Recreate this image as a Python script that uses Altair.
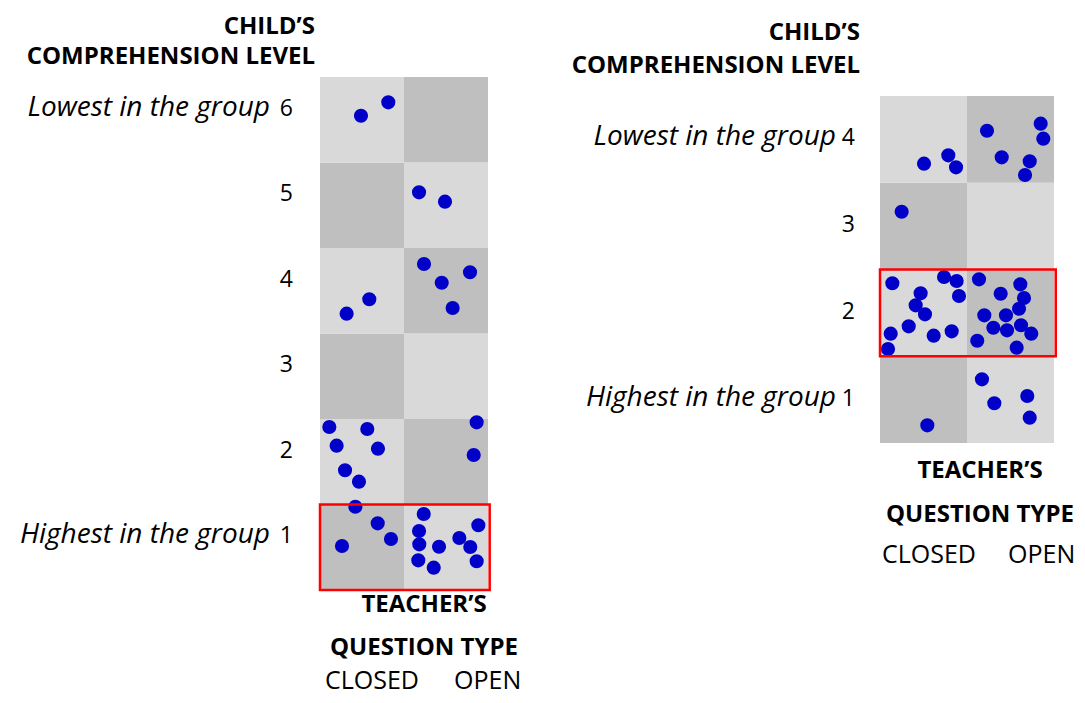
import altair as alt
import pandas as pd

# ---------------- data ----------------
question_types = ["CLOSED", "OPEN"]

# Left panel: 6 comprehension levels
left_levels = [1, 2, 3, 4, 5, 6]
left_x = [0.488, 0.813,
          1.179, 1.488,
          0.317, 0.587, 1.238, 1.449, 1.786, 1.579,
          0.111, 0.563, 0.198, 0.690, 0.298, 0.464, 1.865, 1.830,
          0.421, 0.687, 0.845, 0.262,
          1.235, 1.179, 1.182, 1.417, 1.170, 1.354, 1.659, 1.885, 1.789, 1.865]
left_y = [5.547, 5.704,
          4.651, 4.542,
          3.232, 3.400, 3.813, 3.594, 3.716, 3.298,
          1.906, 1.883, 1.688, 1.653, 1.400, 1.267, 1.961, 1.579,
          0.974, 0.780, 0.596, 0.515,
          0.889, 0.690, 0.534, 0.506, 0.347, 0.261, 0.608, 0.757, 0.503, 0.336]
left_highlight_level = 1

# Right panel: 4 comprehension levels
right_levels = [1, 2, 3, 4]
right_x = [0.506, 0.785, 0.874, 1.230, 1.847, 1.877, 1.399, 1.721, 1.667,
           0.249,
           0.142, 0.736, 0.881, 0.467, 0.908, 0.410, 0.517, 0.330, 0.123, 0.617, 0.824, 0.092,
           1.138, 1.613, 1.387, 1.655, 1.598, 1.199, 1.448, 1.303, 1.460, 1.621, 1.739, 1.118, 1.571,
           0.544, 1.172, 1.693, 1.314, 1.721]
right_y = [3.220, 3.316, 3.178, 3.600, 3.681, 3.508, 3.293, 3.247, 3.089,
           2.666,
           1.841, 1.914, 1.867, 1.725, 1.695, 1.587, 1.483, 1.345, 1.260, 1.237, 1.287, 1.084,
           1.887, 1.829, 1.721, 1.671, 1.548, 1.472, 1.472, 1.329, 1.299, 1.357, 1.260, 1.179, 1.099,
           0.204, 0.734, 0.542, 0.458, 0.292]
right_highlight_level = 2

y_title = ["CHILD\u2019S", "COMPREHENSION LEVEL"]
x_title = ["TEACHER\u2019S", "QUESTION TYPE"]
lowest_label = "Lowest in the group"
highest_label = "Highest in the group"

# ---------------- style / layout ----------------
W, H = 1069, 687
FONT = "Open Sans"
LIGHT, DARK = "#d9d9d9", "#bfbfbf"
DOT = "#0000c8"


def panel(levels, xs, ys, hl_level, x0, colpx, bottom, rowpx, lay):
    n = len(levels)
    xdom = [-x0 / colpx, (W - x0) / colpx]
    ymin = -(H - bottom) / rowpx
    ydom = [ymin, ymin + H / rowpx]
    xs_ = alt.Scale(domain=xdom, nice=False, zero=False)
    ys_ = alt.Scale(domain=ydom, nice=False, zero=False)

    cells = pd.DataFrame([
        {"x": c, "x2": c + 1, "y": lv - 1, "y2": lv,
         "shade": "light" if (lv + c) % 2 == 0 else "dark"}
        for lv in levels for c in range(len(question_types))
    ])
    grid = alt.Chart(cells).mark_rect().encode(
        x=alt.X("x:Q", scale=xs_, axis=None), x2="x2",
        y=alt.Y("y:Q", scale=ys_, axis=None), y2="y2",
        color=alt.Color("shade:N", scale=alt.Scale(domain=["light", "dark"], range=[LIGHT, DARK]), legend=None),
    )

    pts = pd.DataFrame({"x": xs, "y": ys})
    dots = alt.Chart(pts).mark_circle(size=200, opacity=1, color=DOT).encode(
        x=alt.X("x:Q", scale=xs_, axis=None), y=alt.Y("y:Q", scale=ys_, axis=None))

    box = pd.DataFrame({"x": [0.0], "x2": [len(question_types) + 0.02], "y": [hl_level - 1], "y2": [hl_level]})
    hl = alt.Chart(box).mark_rect(filled=False, stroke="#ff0000", strokeWidth=2.5).encode(
        x=alt.X("x:Q", scale=xs_, axis=None), x2="x2",
        y=alt.Y("y:Q", scale=ys_, axis=None), y2="y2")

    def txt(df, dx, dy, size, weight="normal", style="normal", align="right", baseline="alphabetic"):
        return alt.Chart(df).mark_text(
            dx=dx, dy=dy, fontSize=size, fontWeight=weight, fontStyle=style, align=align,
            baseline=baseline, font=FONT, color="black").encode(
            x=alt.X("x:Q", scale=xs_, axis=None), y=alt.Y("y:Q", scale=ys_, axis=None), text="t:N")

    nums = pd.DataFrame({"x": [0] * n, "y": [lv - 0.5 for lv in levels], "t": [str(lv) for lv in levels]})
    ends = pd.DataFrame({"x": [0, 0], "y": [levels[-1] - 0.5, levels[0] - 0.5], "t": [lowest_label, highest_label]})
    layers = [grid, dots, hl,
              txt(nums, lay["num_dx"], lay["lab_dy"], 23),
              txt(ends, lay["ital_dx"], lay["lab_dy"], 28, style="italic")]
    for i, line in enumerate(y_title):
        layers.append(txt(pd.DataFrame({"x": [0], "y": [n], "t": [line]}),
                          lay["ytitle_dx"], lay["ytitle_dy"][i], 24, weight="bold"))
    for i, line in enumerate(x_title):
        layers.append(txt(pd.DataFrame({"x": [1], "y": [0], "t": [line]}),
                          lay["xtitle_dx"], lay["xtitle_dy"][i], 24, weight="bold", align="center"))
    for i, cat in enumerate(question_types):
        layers.append(txt(pd.DataFrame({"x": [i], "y": [0], "t": [cat]}),
                          lay["cat_dx"][i], lay["cat_dy"], 25, align="left"))
    return alt.layer(*layers)


left = panel(left_levels, left_x, left_y, left_highlight_level,
             x0=312, colpx=84, bottom=582, rowpx=85.5,
             lay={"num_dx": -27, "ital_dx": -50, "lab_dy": -4,
                  "ytitle_dx": -5, "ytitle_dy": [-43, -13],
                  "xtitle_dx": 20, "xtitle_dy": [22, 65],
                  "cat_dx": [5, 50], "cat_dy": 99})
right = panel(right_levels, right_x, right_y, right_highlight_level,
              x0=872, colpx=87, bottom=435, rowpx=86.75,
              lay={"num_dx": -25, "ital_dx": -44, "lab_dy": 6,
                   "ytitle_dx": -20, "ytitle_dy": [-56, -23],
                   "xtitle_dx": 13, "xtitle_dy": [35, 79],
                   "cat_dx": [2, 41], "cat_dy": 120})

chart = alt.layer(left, right).resolve_scale(x="independent", y="independent", color="independent").properties(
    width=W, height=H, padding=0, autosize="none"
).configure_view(stroke=None)

chart.save("out.html", embed_options={"renderer": "svg", "actions": False})
